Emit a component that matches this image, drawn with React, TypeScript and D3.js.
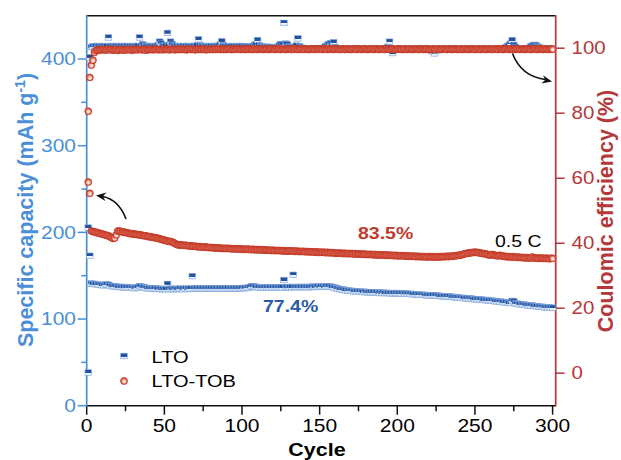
import React from "react";
import * as d3 from "d3";

// Specific capacity (mAh g-1) per cycle, cycles 1..300
const ltoCapacity = [
  205.5, 173, 141, 140.5, 140.5, 140, 140, 139.5, 139.5, 139,
  139, 139.5, 140, 139.5, 138.5, 138, 138, 137.5, 137.5, 137,
  137, 137, 136.5, 137, 136.5, 136.5, 136, 136.5, 136, 136,
  135.5, 136, 136.5, 138, 137.5, 137, 136.5, 136, 135.5, 135.5,
  135.5, 135, 135, 135.5, 135, 134.5, 135, 134.5, 134.5, 134.5,
  134.5, 140.5, 134.5, 135, 134.5, 134.5, 135, 134.5, 134.5, 135,
  135, 134.5, 135, 135, 134.5, 135, 135, 149.5, 135, 135,
  135.5, 135, 135.5, 135, 135.5, 135, 135, 135.5, 135, 135.5,
  135, 135.5, 135.5, 135, 135.5, 135, 135.5, 135.5, 135, 135.5,
  135.5, 135.5, 135, 135.5, 135.5, 135, 135.5, 135.5, 135.5, 135.5,
  136, 135.5, 136, 136, 136.5, 137.5, 138, 137.5, 137, 136.5,
  136.5, 136, 136.5, 136, 136.5, 136.5, 136, 136.5, 136.5, 136,
  136.5, 136.5, 136, 136.5, 136.5, 136.5, 145, 136.5, 137, 136.5,
  136.5, 137, 151, 137, 136.5, 137, 137, 136.5, 137, 137,
  137, 137, 136.5, 137, 137, 137.5, 137, 137, 137.5, 137,
  137.5, 137.5, 137, 137.5, 138, 137.5, 137.5, 137, 136.5, 136,
  135.5, 135, 134.5, 134, 134, 133.5, 133, 133, 132.5, 132.5,
  132.5, 132, 132, 132, 131.5, 131.5, 131.5, 131, 131.5, 131,
  131, 131, 131, 130.5, 130.5, 130.5, 130.5, 130, 130.5, 130,
  130.5, 130, 130, 130, 130, 129.5, 130, 129.5, 130, 129.5,
  130, 129.5, 129.5, 129.5, 129, 129.5, 129, 129, 129, 128.5,
  128.5, 128.5, 128.5, 128, 128, 128, 128, 127.5, 127.5, 127.5,
  127.5, 127, 127.5, 127, 127, 127, 126.5, 126.5, 126.5, 126.5,
  126, 126, 126, 126, 125.5, 125.5, 125, 125, 125, 124.5,
  124.5, 124.5, 124, 124, 124, 123.5, 123.5, 123.5, 123, 123,
  123, 122.5, 122.5, 122.5, 122, 122, 122, 121.5, 121.5, 121.5,
  121, 121, 120.5, 120.5, 120, 120, 120, 119.5, 119.5, 119,
  119, 118.5, 118.5, 121, 120.5, 118, 117.5, 117.5, 117, 117,
  116.5, 116.5, 116, 116, 115.5, 115.5, 115.5, 115, 115, 114.5,
  114.5, 114, 114, 114, 113.5, 113.5, 113.5, 113, 113, 113,
];

const tobCapacity = [
  258, 245, 201.5, 201, 200.5, 200, 199.5, 199, 198.5, 198,
  197.5, 197, 196.5, 196, 195, 194, 193, 193.5, 197, 201.5,
  201.5, 201, 200.5, 200, 200, 199.5, 199, 198.5, 198.5, 198,
  198, 197.5, 197.5, 197, 197, 196.5, 196, 196, 195.5, 195,
  195, 194.5, 194, 194, 193.5, 193, 192.5, 192, 191.5, 191,
  190.5, 190, 189.5, 189.5, 189, 188, 187, 186, 185.5, 185.5,
  185.5, 185, 185, 185, 184.5, 184.5, 184.5, 184, 184, 184,
  183.5, 183.5, 183.5, 183, 183, 183, 183, 182.5, 182.5, 182.5,
  182.5, 182, 182, 182, 182, 182, 181.5, 181.5, 181.5, 181.5,
  181.5, 181.5, 181, 181, 181, 181, 181, 180.5, 181, 180.5,
  180.5, 180.5, 180.5, 180.5, 180.5, 180, 180.5, 180, 180, 180,
  180, 180, 179.5, 180, 179.5, 179.5, 179.5, 179.5, 179, 179.5,
  179, 179, 179, 179, 179, 178.5, 179, 178.5, 178.5, 178.5,
  178.5, 178.5, 178.5, 178, 178.5, 178, 178, 178, 178, 178,
  177.5, 178, 177.5, 177.5, 177.5, 177.5, 177, 177.5, 177, 177,
  177, 177, 177, 176.5, 177, 176.5, 176.5, 176.5, 176.5, 176,
  176, 176, 176, 176, 175.5, 176, 175.5, 175.5, 175.5, 175.5,
  175.5, 175, 175.5, 175, 175, 175, 175, 174.5, 175, 174.5,
  174.5, 174.5, 174.5, 174.5, 174, 174.5, 174, 174, 174, 174,
  174, 173.5, 174, 173.5, 173.5, 173.5, 173.5, 173, 173.5, 173,
  173, 173, 173, 173, 172.5, 173, 172.5, 172.5, 172.5, 172.5,
  172.5, 172, 172.5, 172, 172, 172, 172, 172, 171.5, 172,
  172, 171.5, 172, 171.5, 171.5, 172, 171.5, 172, 172, 172,
  172, 172.5, 172, 172.5, 172.5, 172.5, 173, 173, 173.5, 173.5,
  174, 174.5, 175, 175.5, 176, 176, 176.5, 176.5, 177, 177,
  177, 176.5, 176.5, 176, 175.5, 175.5, 175, 174.5, 174, 174,
  174.5, 174, 173.5, 173, 173, 173.5, 173, 172.5, 172.5, 172,
  172, 172, 171.5, 172, 171.5, 171.5, 171, 171.5, 171, 171,
  171, 170.5, 171, 170.5, 170.5, 170.5, 171.5, 170.5, 170.5, 170,
  170, 170.5, 170, 170, 170, 170, 170, 169.5, 170, 170,
];

// Coulombic efficiency (%) per cycle, cycles 1..300
const ltoEfficiency = [
  0.2, 97.2, 100.3, 100.5, 100.6, 100.5, 100.7, 100.6, 100.5, 100.6,
  100.7, 100.6, 100.5, 103.3, 100.6, 100.7, 100.5, 100.6, 100.7, 100.6,
  100.5, 100.6, 100.7, 100.6, 100.5, 100.7, 100.6, 100.6, 100.5, 100.7,
  100.6, 100.5, 100.7, 103.3, 100.6, 101.2, 100.8, 100.6, 100.7, 100.5,
  100.6, 100.7, 100.6, 100.5, 100.7, 100.9, 102, 101.4, 100.8, 100.6,
  100.7, 104.7, 101, 102, 101.3, 100.8, 100.6, 100.7, 100.5, 100.6,
  100.6, 100.7, 100.5, 100.6, 100.7, 100.5, 100.6, 100.6, 100.7, 100.5,
  100.8, 102.7, 100.9, 100.6, 100.5, 100.7, 100.6, 100.5, 100.6, 100.7,
  100.5, 100.6, 100.7, 100.6, 100.8, 101.1, 102.1, 100.9, 100.6, 100.5,
  100.6, 100.5, 100.6, 100.7, 100.5, 100.6, 100.5, 100.6, 100.7, 100.5,
  100.6, 100.5, 100.4, 100.6, 100.5, 100.4, 100.6, 100.9, 101.2, 102.5,
  100.9, 100.5, 100.4, 100.3, 100.5, 100.4, 100.2, 100.3, 100.4, 100.2,
  100.1, 100.3, 100.2, 100.9, 101.3, 101.1, 107.8, 101.4, 101.2, 100.5,
  100.3, 100.1, 100, 100.4, 100.8, 103, 100.6, 100.2, 100, 99.9,
  99.8, 100, 99.9, 99.8, 100, 99.9, 99.8, 99.7, 99.9, 99.8,
  100, 99.9, 100.2, 100.6, 101, 101.3, 101.5, 100.8, 101.8, 100.3,
  99.9, 99.8, 99.9, 99.7, 99.8, 99.9, 99.8, 99.7, 99.9, 99.8,
  99.7, 99.8, 99.9, 99.7, 99.8, 99.7, 99.9, 99.8, 99.7, 99.8,
  99.9, 99.7, 99.8, 99.9, 99.7, 99.8, 99.9, 99.8, 99.7, 99.9,
  99.8, 99.7, 99.9, 100.4, 102, 99.5, 98.5, 99.6, 99.8, 99.7,
  99.8, 99.9, 99.7, 99.8, 99.9, 99.7, 99.8, 99.9, 99.7, 99.8,
  99.7, 99.9, 99.8, 99.7, 99.8, 99.9, 99.7, 99.8, 99.9, 99.6,
  99.4, 99.2, 99, 98.4, 99.3, 99.7, 99.8, 99.9, 99.7, 99.8,
  99.9, 99.8, 99.7, 99.9, 99.8, 99.7, 99.9, 99.8, 99.7, 99.8,
  99.9, 99.7, 99.8, 99.9, 99.7, 99.8, 99.9, 99.8, 99.7, 99.9,
  99.8, 99.7, 99.9, 99.8, 99.7, 99.8, 99.9, 99.7, 99.8, 99.9,
  99.7, 99.8, 99.9, 99.8, 99.7, 99.9, 99.8, 99.7, 99.8, 100.3,
  100.6, 101, 101.4, 102.5, 101, 100.4, 99.9, 99.8, 99.7, 99.9,
  99.8, 99.9, 99.7, 99.8, 100.1, 100.5, 100.8, 101, 101, 100.6,
  100.3, 100.1, 99.9, 99.8, 99.7, 99.9, 99.8, 99.7, 99.9, 99.8,
];

const tobEfficiency = [
  80.6, 91, 94.8, 96.3, 98.7, 99.3, 99.5, 99.4, 99.6, 99.5,
  99.6, 99.4, 99.5, 99.7, 99.5, 99.6, 99.4, 99.5, 99.6, 99.3,
  99.5, 99.6, 99.5, 99.4, 99.6, 99.5, 99.7, 99.5, 99.4, 99.6,
  99.5, 99.6, 99.5, 99.7, 99.6, 99.5, 99.6, 99.4, 99.6, 99.5,
  99.7, 99.6, 99.5, 99.6, 99.7, 99.5, 99.6, 99.6, 99.5, 99.7,
  99.6, 99.7, 99.5, 99.6, 99.7, 99.6, 99.5, 99.7, 99.6, 99.6,
  99.7, 99.6, 99.7, 99.5, 99.6, 99.7, 99.6, 99.7, 99.6, 99.5,
  99.7, 99.6, 99.7, 99.6, 99.7, 99.6, 99.5, 99.7, 99.6, 99.7,
  99.6, 99.7, 99.6, 99.7, 99.8, 99.6, 99.7, 99.6, 99.7, 99.6,
  99.7, 99.8, 99.6, 99.7, 99.6, 99.7, 99.8, 99.7, 99.6, 99.7,
  99.7, 99.6, 99.7, 99.8, 99.6, 99.7, 99.6, 99.8, 99.7, 99.6,
  99.7, 99.8, 99.7, 99.6, 99.7, 99.8, 99.6, 99.7, 99.8, 99.7,
  99.6, 99.7, 99.8, 99.7, 99.6, 99.8, 99.7, 99.6, 99.7, 99.8,
  99.7, 99.6, 99.8, 99.7, 99.8, 99.6, 99.7, 99.8, 99.7, 99.6,
  99.8, 99.7, 99.6, 99.7, 99.8, 99.7, 99.6, 99.8, 99.7, 99.8,
  99.7, 99.6, 99.8, 99.7, 99.6, 99.8, 99.7, 99.8, 99.6, 99.7,
  99.8, 99.7, 99.6, 99.7, 99.8, 99.6, 99.7, 99.8, 99.7, 99.6,
  99.7, 99.8, 99.7, 99.6, 99.8, 99.7, 99.6, 99.7, 99.8, 99.7,
  99.6, 99.7, 99.8, 99.7, 99.6, 99.8, 99.7, 99.6, 99.7, 99.8,
  99.7, 99.6, 99.8, 99.7, 99.6, 99.7, 99.8, 99.7, 99.6, 99.7,
  99.8, 99.7, 99.6, 99.7, 99.8, 99.6, 99.7, 99.8, 99.7, 99.6,
  99.7, 99.8, 99.7, 99.6, 99.8, 99.7, 99.6, 99.7, 99.8, 99.7,
  99.6, 99.7, 99.8, 99.7, 99.6, 99.8, 99.7, 99.6, 99.7, 99.8,
  99.7, 99.6, 99.8, 99.7, 99.6, 99.7, 99.8, 99.7, 99.6, 99.7,
  99.8, 99.6, 99.7, 99.8, 99.7, 99.6, 99.7, 99.8, 99.7, 99.6,
  99.7, 99.8, 99.7, 99.6, 99.8, 99.7, 99.6, 99.7, 99.8, 99.7,
  99.6, 99.7, 99.8, 99.7, 99.6, 99.8, 99.7, 99.6, 99.7, 99.8,
  99.7, 99.6, 99.8, 99.7, 99.6, 99.7, 99.8, 99.7, 99.6, 99.7,
  99.8, 99.6, 99.7, 99.8, 99.7, 99.6, 99.7, 99.8, 99.7, 99.6,
  99.7, 99.8, 99.7, 99.6, 99.8, 99.7, 99.6, 99.7, 99.8, 99.7,
];

const cycleTicks = [0, 50, 100, 150, 200, 250, 300];
const cycleMinorTicks = [25, 75, 125, 175, 225, 275];
const capacityTicks = [0, 100, 200, 300, 400];
const capacityMinorTicks = [50, 150, 250, 350];
const efficiencyTicks = [0, 20, 40, 60, 80, 100];

const seriesNames = ["LTO", "LTO-TOB"];
const retentionLabels = ["77.4%", "83.5%"];
const rateLabel = "0.5 C";

const BLUE_AXIS = "#4a8fd8";
const RED_AXIS = "#b5383a";
const FONT = "'Liberation Sans', Arial, Helvetica, sans-serif";
const SQUASH = 0.86;

const left = 86.7;
const right = 555.7;
const top = 15.7;
const bottom = 405.7;

const x = d3.scaleLinear().domain([0, 302]).range([left, right]);
const yCap = d3.scaleLinear().domain([0, 450]).range([bottom, top]);
const yCE = d3.scaleLinear().domain([-10, 110]).range([bottom, top]);

function Square({ cx, cy }: { cx: number; cy: number }) {
  return (
    <rect
      x={cx - 3.3}
      y={cy - 2.8}
      width={6.6}
      height={5.6}
      fill="url(#sqFill)"
      stroke="#86abe0"
      strokeWidth={0.6}
    />
  );
}

function Ball({ cx, cy }: { cx: number; cy: number }) {
  return <circle cx={cx} cy={cy} r={3.5} fill="url(#ballFill)" stroke="#c23a27" strokeWidth={0.7} />;
}

function Label({
  x: tx,
  y: ty,
  children,
  anchor = "start",
  size = 21,
  weight = "normal",
  fill = "#000",
}: {
  x: number;
  y: number;
  children: React.ReactNode;
  anchor?: string;
  size?: number;
  weight?: string;
  fill?: string;
}) {
  return (
    <text
      transform={`translate(${tx},${ty}) scale(1,${SQUASH})`}
      dy="0.355em"
      textAnchor={anchor}
      fontSize={size}
      fontWeight={weight}
      fill={fill}
      fontFamily={FONT}
    >
      {children}
    </text>
  );
}

function Arrow({ d, tip, from }: { d: string; tip: [number, number]; from: [number, number] }) {
  const a = Math.atan2(tip[1] - from[1], tip[0] - from[0]);
  const len = 10;
  const half = 4.2;
  const bx = tip[0] - len * Math.cos(a);
  const by = tip[1] - len * Math.sin(a);
  const nx = -Math.sin(a);
  const ny = Math.cos(a);
  const mx = tip[0] - len * 0.7 * Math.cos(a);
  const my = tip[1] - len * 0.7 * Math.sin(a);
  const head = `M${tip[0]},${tip[1]} L${bx + nx * half},${by + ny * half} L${mx},${my} L${bx - nx * half},${by - ny * half} Z`;
  return (
    <g>
      <path d={d} fill="none" stroke="#111" strokeWidth={1.6} />
      <path d={head} fill="#111" />
    </g>
  );
}

export default function App() {
  const cycles = d3.range(1, 301);
  return (
    <svg
      width={621}
      height={460}
      style={{ position: "fixed", left: 0, top: 0, background: "#fff" }}
    >
      <defs>
        <linearGradient id="sqFill" x1="0" y1="0" x2="0" y2="1">
          <stop offset="0" stopColor="#1d4b98" />
          <stop offset="0.6" stopColor="#2656a5" />
          <stop offset="0.61" stopColor="#f4f8fd" />
          <stop offset="1" stopColor="#d5e2f4" />
        </linearGradient>
        <radialGradient id="ballFill" cx="0.5" cy="0.5" r="0.55" fx="0.55" fy="0.62">
          <stop offset="0" stopColor="#ffffff" />
          <stop offset="0.4" stopColor="#f6c3b8" />
          <stop offset="0.72" stopColor="#dd5a44" />
          <stop offset="1" stopColor="#c0392b" />
        </radialGradient>
      </defs>

      {/* frame: top and bottom in black, left blue, right red */}
      <line x1={left} x2={right} y1={top} y2={top} stroke="#111" strokeWidth={1.6} />
      <line x1={left} x2={right} y1={bottom} y2={bottom} stroke="#111" strokeWidth={1.6} />

      {/* cycle axis ticks */}
      {cycleTicks.map((t) => (
        <g key={`xt${t}`}>
          <line x1={x(t)} x2={x(t)} y1={bottom} y2={bottom + 9} stroke="#111" strokeWidth={1.5} />
          <Label x={x(t)} y={426} anchor="middle">
            {t}
          </Label>
        </g>
      ))}
      {cycleMinorTicks.map((t) => (
        <line key={`xm${t}`} x1={x(t)} x2={x(t)} y1={bottom} y2={bottom + 5.5} stroke="#111" strokeWidth={1.5} />
      ))}

      {/* capacity axis */}
      <line x1={left} x2={left} y1={top - 0.8} y2={bottom + 0.8} stroke={BLUE_AXIS} strokeWidth={1.7} />
      {capacityTicks.map((t) => (
        <g key={`yc${t}`}>
          <line x1={left - 9} x2={left} y1={yCap(t)} y2={yCap(t)} stroke={BLUE_AXIS} strokeWidth={1.5} />
          <Label x={76} y={yCap(t)} anchor="end" fill={BLUE_AXIS}>
            {t}
          </Label>
        </g>
      ))}
      {capacityMinorTicks.map((t) => (
        <line key={`ym${t}`} x1={left - 5.5} x2={left} y1={yCap(t)} y2={yCap(t)} stroke={BLUE_AXIS} strokeWidth={1.5} />
      ))}

      {/* efficiency axis */}
      <line x1={right} x2={right} y1={top - 0.8} y2={bottom + 0.8} stroke={RED_AXIS} strokeWidth={1.7} />
      {efficiencyTicks.map((t) => (
        <g key={`ye${t}`}>
          <line x1={right} x2={right + 9} y1={yCE(t)} y2={yCE(t)} stroke={RED_AXIS} strokeWidth={1.5} />
          <Label x={571.5} y={yCE(t)} fill={RED_AXIS} size={20.5}>
            {t}
          </Label>
        </g>
      ))}

      {/* axis titles */}
      <text
        transform="translate(33,210) rotate(-90)"
        textAnchor="middle"
        fontSize={21.5}
        fontWeight="bold"
        fill={BLUE_AXIS}
        fontFamily={FONT}
      >
        Specific capacity (mAh g
        <tspan dy={-8} fontSize={14}>
          -1
        </tspan>
        <tspan dy={8}>)</tspan>
      </text>
      <text
        transform="translate(613,211) rotate(-90)"
        textAnchor="middle"
        fontSize={21.5}
        fontWeight="bold"
        fill={RED_AXIS}
        fontFamily={FONT}
      >
        Coulomic efficiency (%)
      </text>
      <Label x={317} y={449} anchor="middle" size={21.5} weight="bold">
        Cycle
      </Label>

      {/* LTO */}
      <g>
        {ltoCapacity.map((v, i) => (
          <Square key={`lc${i}`} cx={x(cycles[i])} cy={yCap(v)} />
        ))}
        {ltoEfficiency.map((v, i) => (
          <Square key={`le${i}`} cx={x(cycles[i])} cy={yCE(v)} />
        ))}
      </g>
      {/* LTO-TOB */}
      <g>
        {tobCapacity.map((v, i) => (
          <Ball key={`tc${i}`} cx={x(cycles[i])} cy={yCap(v)} />
        ))}
        {tobEfficiency.map((v, i) => (
          <Ball key={`te${i}`} cx={x(cycles[i])} cy={yCE(v)} />
        ))}
      </g>

      {/* annotations */}
      <Label x={263} y={306} size={19.5} weight="bold" fill="#2c5aa6">
        {retentionLabels[0]}
      </Label>
      <Label x={358} y={233} size={19.5} weight="bold" fill="#c0392b">
        {retentionLabels[1]}
      </Label>
      <Label x={495} y={241} size={19.5}>
        {rateLabel}
      </Label>

      <Arrow d="M126,219 Q119,200 103,196.5" from={[112, 197.5]} tip={[96, 195.5]} />
      <Arrow d="M512.5,53.5 Q521,76 545,79.5" from={[535, 78]} tip={[552, 81.5]} />

      {/* legend */}
      <Square cx={124} cy={356} />
      <Label x={151.5} y={357} size={20}>
        {seriesNames[0]}
      </Label>
      <Ball cx={124} cy={381} />
      <Label x={151.5} y={381} size={20}>
        {seriesNames[1]}
      </Label>
    </svg>
  );
}
